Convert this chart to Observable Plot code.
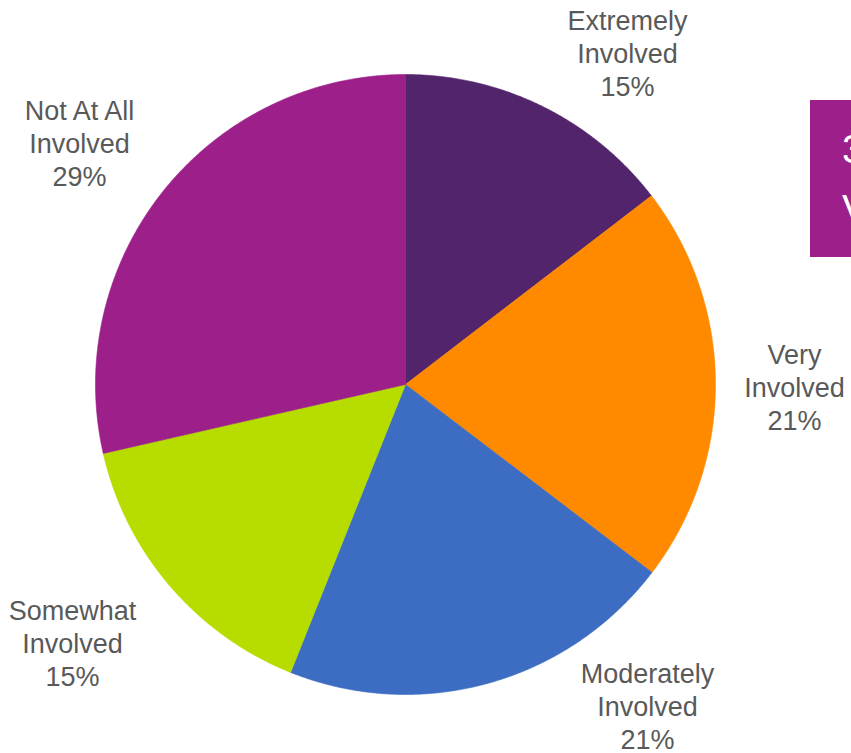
<!DOCTYPE html>
<html>
<head>
<meta charset="utf-8">
<script src="https://cdn.jsdelivr.net/npm/d3@7"></script>
<script src="https://cdn.jsdelivr.net/npm/@observablehq/plot@0.6"></script>
<style>
  html, body { margin: 0; padding: 0; background: #fff; overflow: hidden; width: 851px; height: 753px; }
  #wrap { position: relative; width: 851px; height: 753px; overflow: hidden; }
  #callout { position: absolute; left: 810px; top: 100px; width: 300px; height: 157px; background: #9C1F8A;
    color: #fff; font-family: "Liberation Sans", Arial, sans-serif; font-size: 40px; line-height: 60px;
    padding: 19px 0 0 32px; box-sizing: border-box; white-space: nowrap; }
</style>
</head>
<body>
<div id="wrap">
  <div id="chart"></div>
  <div id="callout">36%<br>Very or Extremely</div>
</div>
<script>
// ---- data ----
const categories = ["Extremely Involved", "Very Involved", "Moderately Involved", "Somewhat Involved", "Not At All Involved"];
const labelNames = ["Extremely\nInvolved", "Very\nInvolved", "Moderately\nInvolved", "Somewhat\nInvolved", "Not At All\nInvolved"];
const shares = [14.6, 20.8, 20.7, 15.4, 28.6];
const colors = ["#52246C", "#FF8A00", "#3D6DC3", "#B6DC00", "#9C1F8A"];

// ---- layout (pixels) ----
const W = 851, H = 753;
const cx = 405, cy = 384, R = 310;
const labelPx = [[627, 52], [794, 386], [647, 705], [72, 642], [79, 142]];

// build slice polygons in data units (radius = 1), clockwise from 12 o'clock
const total = d3.sum(shares);
const pts = [];
let acc = 0;
shares.forEach((v, i) => {
  const a0 = acc / total * 2 * Math.PI;
  acc += v;
  const a1 = acc / total * 2 * Math.PI;
  const n = Math.max(2, Math.ceil((a1 - a0) / (Math.PI / 720)));
  pts.push({name: categories[i], x: 0, y: 0});
  for (let k = 0; k <= n; k++) {
    const a = a0 + (a1 - a0) * k / n;
    pts.push({name: categories[i], x: Math.sin(a), y: Math.cos(a)});
  }
  pts.push({name: categories[i], x: 0, y: 0});
});

const labels = categories.map((c, i) => ({
  text: labelNames[i] + "\n" + Math.round(shares[i]) + "%",
  x: (labelPx[i][0] - cx) / R,
  y: (cy - labelPx[i][1]) / R
}));

const chart = Plot.plot({
  width: W,
  height: H,
  margin: 0,
  x: {domain: [-cx / R, (W - cx) / R], axis: null},
  y: {domain: [-(H - cy) / R, cy / R], axis: null},
  color: {domain: categories, range: colors},
  style: {background: "transparent"},
  marks: [
    Plot.line(pts, {x: "x", y: "y", z: "name", fill: "name", stroke: "name", strokeWidth: 0.6, curve: "linear"}),
    Plot.text(labels, {x: "x", y: "y", text: "text", fill: "#595959", fontSize: 27,
      fontFamily: "Liberation Sans, Arial, sans-serif", lineHeight: 1.22, textAnchor: "middle", lineAnchor: "middle"})
  ]
});
document.getElementById("chart").appendChild(chart);
</script>
</body>
</html>
